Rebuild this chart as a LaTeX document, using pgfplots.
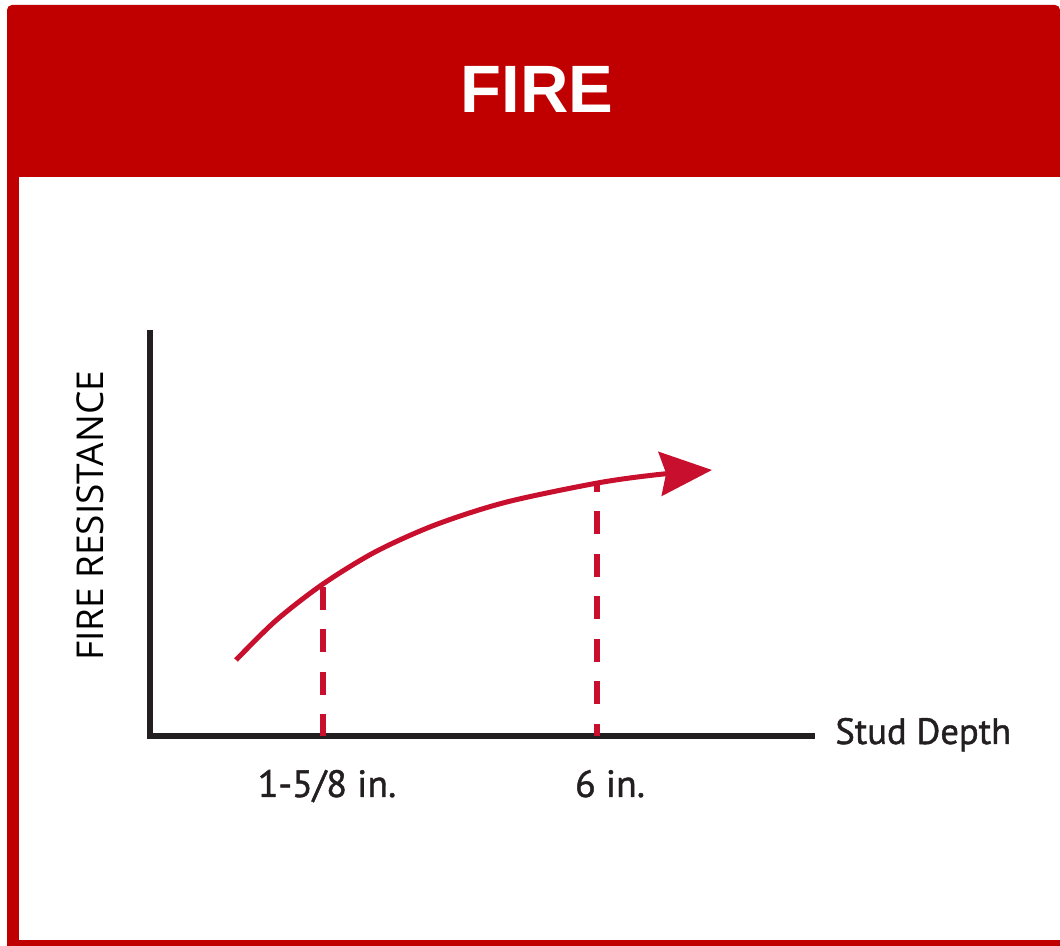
\documentclass[border=0pt]{standalone}
\usepackage{pgfplots}
\pgfplotsset{compat=1.18}
\usepackage{fontspec}
\setmainfont{Liberation Sans}
\newfontfamily\ptsans[FakeBold=1.2]{PT Sans}
\newfontfamily\opensans{Open Sans}
\usetikzlibrary{arrows.meta}
\definecolor{hdrred}{RGB}{192,0,0}
\definecolor{crv}{RGB}{200,16,46}
\definecolor{ink}{RGB}{35,31,32}
\begin{document}
\begin{tikzpicture}
\begin{axis}[
  scale only axis, width=530pt, height=473pt,
  xmin=0, xmax=1060, ymin=-946, ymax=0,
  hide axis, clip=false,
]
% background and frame
\path[fill=white] (axis cs:0,-946) rectangle (axis cs:1060,0);
\fill[hdrred, rounded corners=2.5pt] (axis cs:7,-177) -- (axis cs:7,-5) -- (axis cs:1060,-5) [sharp corners]-- (axis cs:1060,-177) -- cycle;
\fill[hdrred] (axis cs:7,-946) rectangle (axis cs:19,-170);
\fill[hdrred] (axis cs:7,-946) rectangle (axis cs:1060,-940);
\node[text=white, font=\fontsize{33.5}{36}\selectfont\bfseries] at (axis cs:537,-89) {FIRE};
% axes lines
\addplot[ink, line width=3.2pt, line join=miter] coordinates {(150,-330) (150,-736) (815,-736)};
% dashed guides
\addplot[crv, line width=3.2pt, dash pattern=on 11.5pt off 9.75pt] coordinates {(323,-587) (323,-736)};
\addplot[crv, line width=3.2pt, dash pattern=on 11.5pt off 9.75pt, dash phase=7pt] coordinates {(597,-483) (597,-736)};
% curve
\addplot[crv, line width=2.5pt, smooth, -{Stealth[length=26pt, width=22pt, inset=3pt]}] coordinates {
  (236,-660) (276,-620.5) (323,-584) (376,-551.5) (436,-524.6) (506,-502.2) (597,-483.1) (656,-474.8) (712,-470)};
% labels
\node[text=ink, font=\ptsans\fontsize{19}{22}\selectfont, anchor=base] at (axis cs:327,-797) {1-5/8 in.};
\node[text=ink, font=\ptsans\fontsize{19}{22}\selectfont, anchor=base] at (axis cs:610,-797) {6 in.};
\node[text=ink, font=\ptsans\fontsize{18.3}{22}\selectfont, anchor=base west, inner sep=0pt] at (axis cs:835,-744) {Stud Depth};
\node[text=black, font=\opensans\fontsize{18.5}{22}\selectfont, rotate=90, anchor=base, inner sep=0pt] at (axis cs:103,-516) {FIRE RESISTANCE};
\end{axis}
\end{tikzpicture}
\end{document}
